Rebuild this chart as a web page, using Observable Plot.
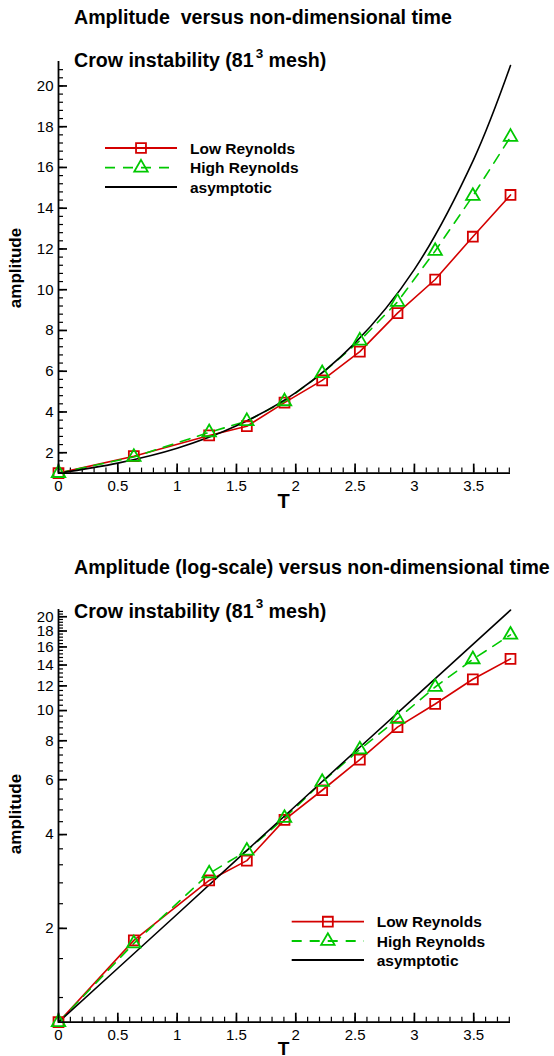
<!DOCTYPE html>
<html>
<head>
<meta charset="utf-8">
<script src="https://cdn.jsdelivr.net/npm/d3@7"></script>
<script src="https://cdn.jsdelivr.net/npm/@observablehq/plot@0.6"></script>
<style>
  body { margin: 0; background: #fff; }
  #wrap { position: relative; width: 554px; height: 1056px; overflow: hidden; }
  #wrap svg { position: absolute; left: 0; }
</style>
</head>
<body>
<div id="wrap"></div>
<script>
// ---------- data ----------
const time    = [0, 0.635, 1.27, 1.5875, 1.905, 2.2225, 2.54, 2.8575, 3.175, 3.4925, 3.81];
const lowRe   = [1.0, 1.83, 2.85, 3.30, 4.46, 5.55, 6.96, 8.85, 10.5, 12.6, 14.65];
const highRe  = [1.0, 1.79, 3.00, 3.55, 4.52, 5.90, 7.50, 9.40, 11.9, 14.6, 17.5];
const asymT   = [0, 0.5, 1, 1.5, 2, 2.5, 3, 3.5, 3.81];
const asymA   = [1.0, 1.49, 2.22, 3.32, 4.95, 7.39, 11.0, 16.4, 21.0];
const seriesNames = ["Low Reynolds", "High Reynolds", "asymptotic"];

// ---------- ticks ----------
const xTicks = [0, 0.5, 1, 1.5, 2, 2.5, 3, 3.5];
const xMinor = d3.range(0, 39).map(i => +(i * 0.1).toFixed(2));
const yTicks = [2, 4, 6, 8, 10, 12, 14, 16, 18, 20];
const yMinor = d3.range(3, 53).map(i => +(i * 0.4).toFixed(2));

const low  = time.map((t, i) => ({t, a: lowRe[i]}));
const high = time.map((t, i) => ({t, a: highRe[i]}));
const asym = asymT.map((t, i) => ({t, a: asymA[i]}));

const W = 554, H = 528, ML = 58, MR = 44;
const FONT = '"Liberation Sans", Arial, Helvetica, sans-serif';
const RED = "#d40000", GREEN = "#00c800";
const DASH = "10,8";

function chart({type, domain, mt, mb}) {
  const ph = H - mt - mb, pw = W - ML - MR;
  return Plot.plot({
    width: W, height: H,
    marginLeft: ML, marginRight: MR, marginTop: mt, marginBottom: mb,
    style: {fontFamily: FONT, fontSize: "15px", color: "#000", background: "transparent", overflow: "visible"},
    x: {domain: [0, 3.81]},
    y: {type, domain},
    marks: [
      Plot.tickX(xMinor, {x: d => d, insetTop: ph - 5, stroke: "#000", strokeWidth: 1.2}),
      Plot.tickX(xTicks, {x: d => d, insetTop: ph - 9, stroke: "#000", strokeWidth: 1.7}),
      Plot.tickY(yMinor.filter(v => v > domain[0] && v < domain[1]), {y: d => d, insetRight: pw - 5, stroke: "#000", strokeWidth: 1.2}),
      Plot.tickY(yTicks, {y: d => d, insetRight: pw - 9, stroke: "#000", strokeWidth: 1.7}),
      Plot.axisX({ticks: xTicks, tickSize: 0, tickPadding: 7, label: null, tickFormat: d => String(d)}),
      Plot.axisY({ticks: yTicks, tickSize: 0, tickPadding: 5, label: null, tickFormat: d => String(d)}),
      Plot.line(low,  {x: "t", y: "a", stroke: RED, strokeWidth: 1.6}),
      Plot.line(high, {x: "t", y: "a", stroke: GREEN, strokeWidth: 1.6, strokeDasharray: DASH}),
      Plot.line(asym, {x: "t", y: "a", stroke: "#000", strokeWidth: 1.6, curve: type === "log" ? "linear" : "catmull-rom"}),
      Plot.dot(low,  {x: "t", y: "a", symbol: "square", r: 5.6, stroke: RED, strokeWidth: 1.8, fill: "none"}),
      Plot.dot(high, {x: "t", y: "a", symbol: "triangle", r: 5, stroke: GREEN, strokeWidth: 1.8, fill: "none"}),
      Plot.ruleX([0], {stroke: "#000", strokeWidth: 1.8}),
      Plot.ruleY([domain[0]], {stroke: "#000", strokeWidth: 1.8})
    ]
  });
}

const wrap = document.getElementById("wrap");
const c1 = chart({type: "linear", domain: [1, 21.2], mt: 61, mb: 55.4});
c1.style.top = "0px";
wrap.appendChild(c1);
const c2 = chart({type: "log", domain: [1, 21.1], mt: 81, mb: 34.3});
c2.style.top = "528px";
wrap.appendChild(c2);

// ---------- overlay: titles, axis labels, legends ----------
const ov = d3.create("svg").attr("width", 554).attr("height", 1056)
  .style("top", "0px").style("pointer-events", "none")
  .attr("font-family", FONT).attr("font-weight", "bold").attr("fill", "#000");

const TX = 74, TF = 19.6;
function subtitle(y) {
  const t = ov.append("text").attr("x", TX).attr("y", y).attr("font-size", TF);
  t.append("tspan").text("Crow instability (81");
  t.append("tspan").attr("font-size", 13.5).attr("dy", -9.5).attr("dx", 2).text("3");
  t.append("tspan").attr("dy", 9.5).text(" mesh)");
}
ov.append("text").attr("x", TX).attr("y", 24).attr("font-size", TF)
  .style("white-space", "pre").text("Amplitude  versus non-dimensional time");
subtitle(67);
ov.append("text").attr("x", TX).attr("y", 574.3).attr("font-size", TF)
  .text("Amplitude (log-scale) versus non-dimensional time");
subtitle(617.5);

function ylabel(cy) {
  ov.append("text").attr("transform", `translate(21,${cy}) rotate(-90)`)
    .attr("text-anchor", "middle").attr("font-size", 17).text("amplitude");
}
ylabel(268); ylabel(814);
ov.append("text").attr("x", 283.5).attr("y", 507.5).attr("text-anchor", "middle").attr("font-size", 20).text("T");
ov.append("text").attr("x", 283.5).attr("y", 1055).attr("text-anchor", "middle").attr("font-size", 19).text("T");

function legend(x0, x1, tx, ys) {
  const xm = (x0 + x1) / 2;
  const styles = [
    {stroke: RED, dash: null, sym: d3.symbolSquare, r: 5.6},
    {stroke: GREEN, dash: DASH, sym: d3.symbolTriangle, r: 5},
    {stroke: "#000", dash: null, sym: null}
  ];
  styles.forEach((s, i) => {
    const y = ys[i];
    const l = ov.append("line").attr("x1", x0).attr("x2", x1).attr("y1", y).attr("y2", y)
      .attr("stroke", s.stroke).attr("stroke-width", 1.8);
    if (s.dash) l.attr("stroke-dasharray", s.dash);
    if (s.sym) ov.append("path").attr("transform", `translate(${xm},${y})`)
      .attr("d", d3.symbol(s.sym, Math.PI * s.r * s.r)())
      .attr("fill", "none").attr("stroke", s.stroke).attr("stroke-width", 1.8);
    ov.append("text").attr("x", tx).attr("y", y).attr("dy", "0.36em").attr("font-size", 15.5).text(seriesNames[i]);
  });
}
legend(105, 177, 190, [148, 167.7, 187]);
legend(291.7, 364, 376.7, [921.7, 941, 960]);

wrap.appendChild(ov.node());
</script>
</body>
</html>
